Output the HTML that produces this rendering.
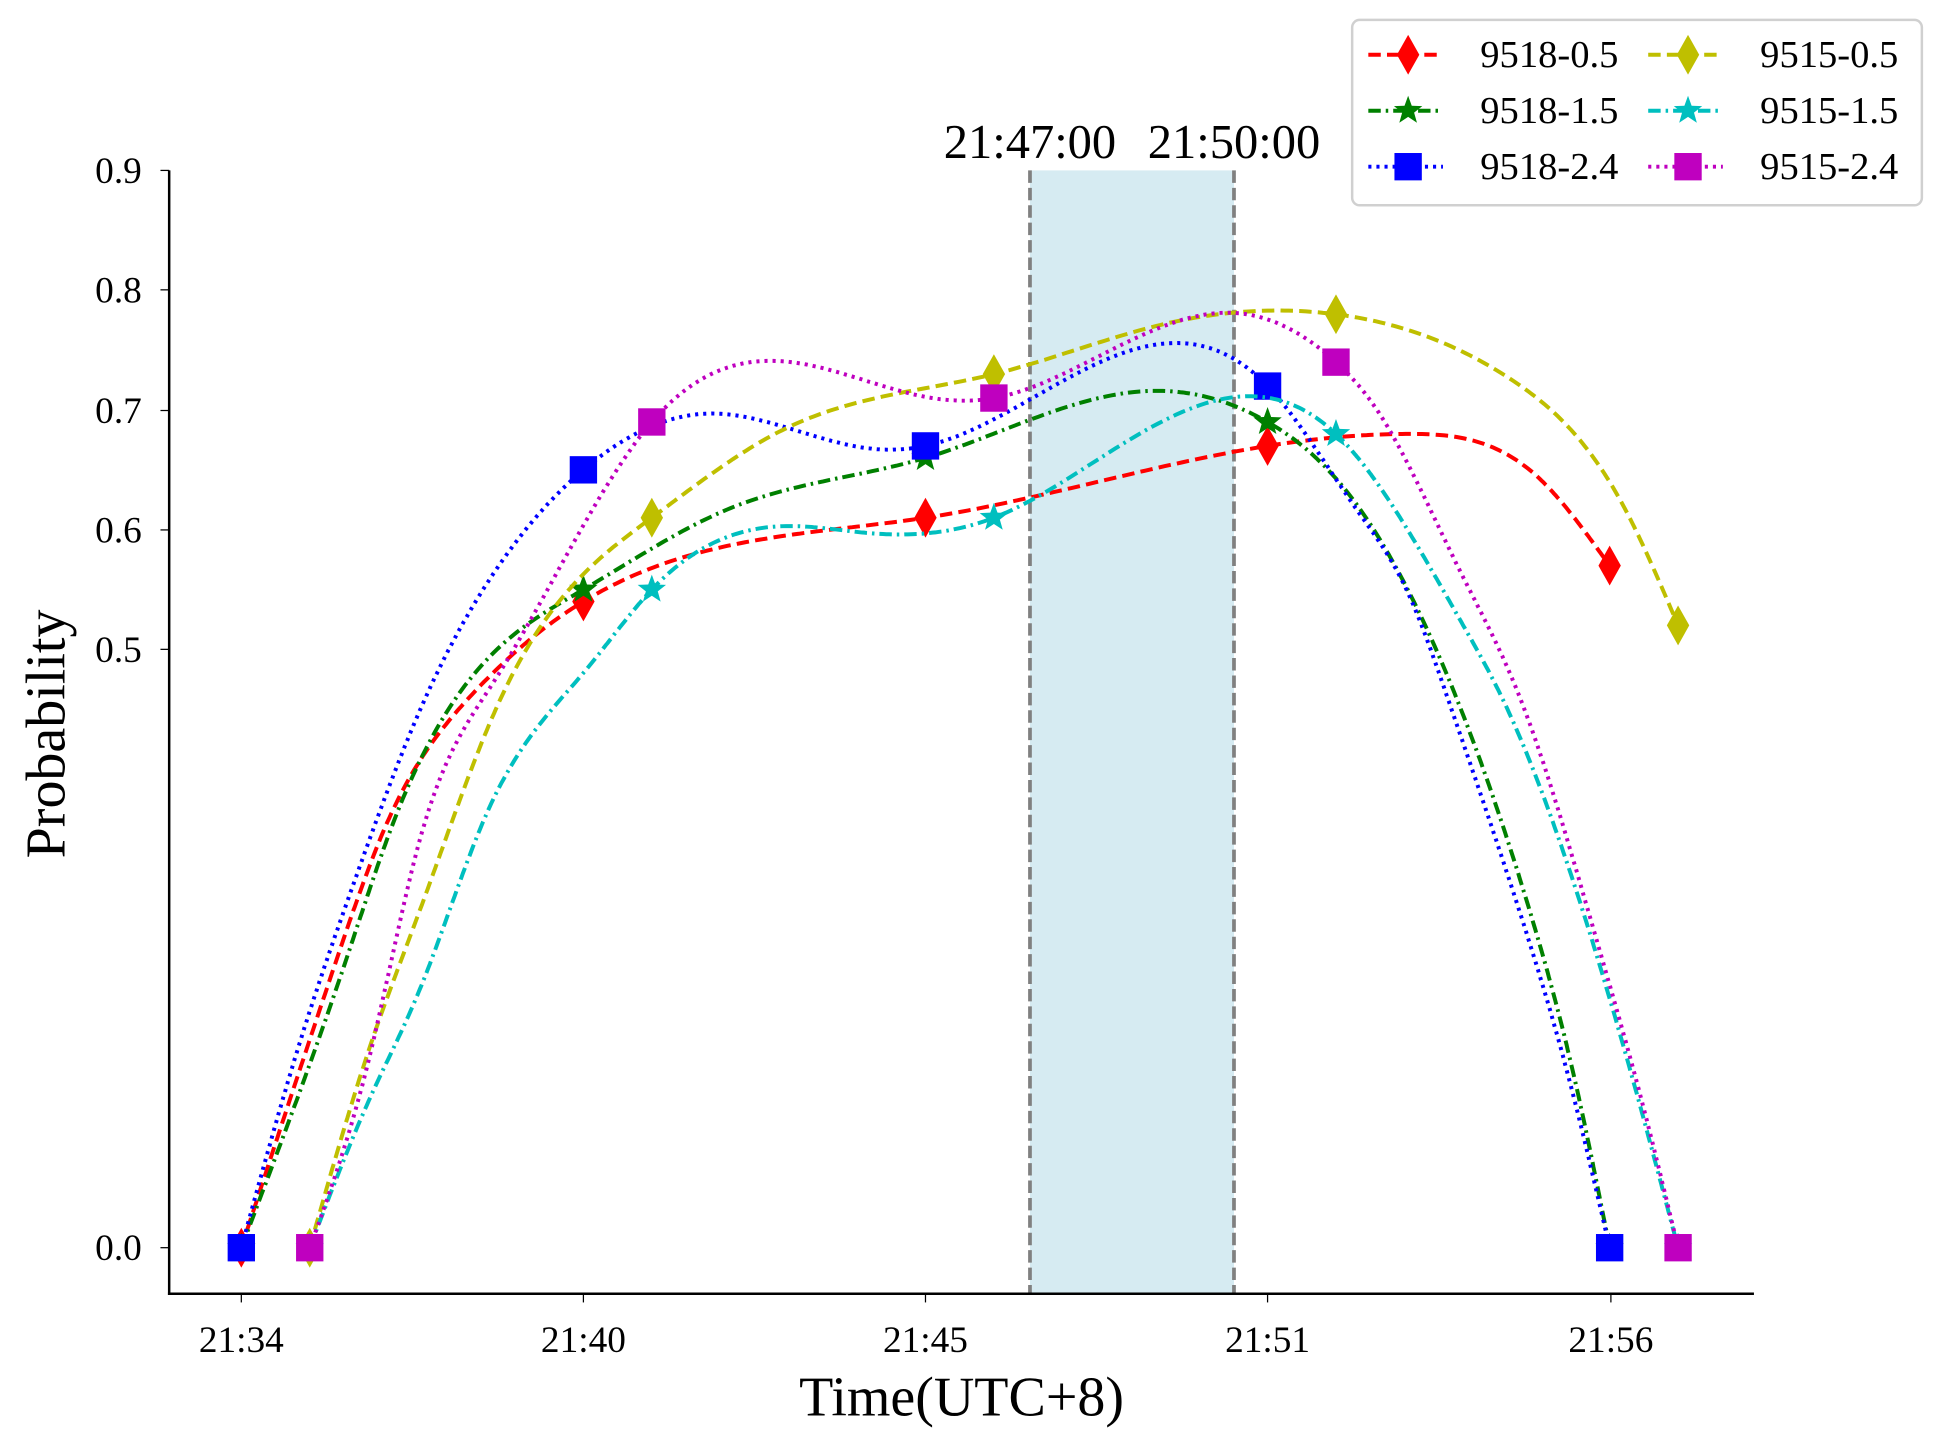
<!DOCTYPE html>
<html><head><meta charset="utf-8"><style>
html,body{margin:0;padding:0;background:#fff;}
svg{display:block;}
text{font-family:"Liberation Serif",serif;fill:#000;}
</style></head><body>
<svg id="s" width="1948" height="1443" viewBox="0 0 1566 1160" preserveAspectRatio="none" xmlns="http://www.w3.org/2000/svg">
<rect x="828" y="137" width="164" height="903" fill="#add8e6" opacity="0.5"/>
<line x1="828" y1="137" x2="828" y2="1040" stroke="#808080" stroke-width="3" stroke-dasharray="10,4"/>
<line x1="992" y1="137" x2="992" y2="1040" stroke="#808080" stroke-width="3" stroke-dasharray="10,4"/>
<text x="828" y="127" font-size="39" text-anchor="middle">21:47:00</text>
<text x="992" y="127" font-size="39" text-anchor="middle">21:50:00</text>
<g id="series"></g>
<line x1="136" y1="137" x2="136" y2="1041" stroke="#000" stroke-width="2"/>
<line x1="135" y1="1040" x2="1410" y2="1040" stroke="#000" stroke-width="2"/>
<g font-size="30" text-anchor="end">
<line x1="129" y1="137" x2="136" y2="137" stroke="#000"/><text x="114" y="147">0.9</text>
<line x1="129" y1="233" x2="136" y2="233" stroke="#000"/><text x="114" y="243">0.8</text>
<line x1="129" y1="330" x2="136" y2="330" stroke="#000"/><text x="114" y="340">0.7</text>
<line x1="129" y1="426" x2="136" y2="426" stroke="#000"/><text x="114" y="436">0.6</text>
<line x1="129" y1="522" x2="136" y2="522" stroke="#000"/><text x="114" y="532">0.5</text>
<line x1="129" y1="1003" x2="136" y2="1003" stroke="#000"/><text x="114" y="1013">0.0</text>
</g>
<g font-size="30" text-anchor="middle">
<line x1="194" y1="1040" x2="194" y2="1047" stroke="#000"/><text x="194" y="1087">21:34</text>
<line x1="469" y1="1040" x2="469" y2="1047" stroke="#000"/><text x="469" y="1087">21:40</text>
<line x1="744" y1="1040" x2="744" y2="1047" stroke="#000"/><text x="744" y="1087">21:45</text>
<line x1="1019" y1="1040" x2="1019" y2="1047" stroke="#000"/><text x="1019" y="1087">21:51</text>
<line x1="1295" y1="1040" x2="1295" y2="1047" stroke="#000"/><text x="1295" y="1087">21:56</text>
</g>
<text x="773" y="1138" font-size="45" text-anchor="middle">Time(UTC+8)</text>
<text transform="translate(52,590) rotate(-90)" font-size="45" text-anchor="middle">Probability</text>
<rect x="1087" y="16" width="458" height="149" rx="6" fill="#fff" stroke="#ccc" stroke-width="2" opacity="0.9"/>
<g id="legend" font-size="31"></g>
</svg>
<script>
var NS="http://www.w3.org/2000/svg";
function el(t,a,p){var e=document.createElementNS(NS,t);for(var k in a)e.setAttribute(k,a[k]);p.appendChild(e);return e;}
function X(k){return 194+55*k;}function Y(v){return 1003-v*962;}
function marker(g,type,x,y,c){
 if(type=="d")el("polygon",{points:(x)+","+(y-16)+" "+(x+9)+","+y+" "+x+","+(y+16)+" "+(x-9)+","+y,fill:c},g);
 else if(type=="s")el("rect",{x:x-11,y:y-11,width:22,height:22,fill:c},g);
 else{var p=[];for(var i=0;i<10;i++){var r=i%2?5:12,a=-Math.PI/2+i*Math.PI/5;p.push((x+r*Math.cos(a)).toFixed(1)+","+(y+r*Math.sin(a)).toFixed(1));}
  el("polygon",{points:p.join(" "),fill:c},g);}
}
function natural(pts){
 var n=pts.length,x=pts.map(function(p){return p[0];}),y=pts.map(function(p){return p[1];});
 var h=[],al=[],l=[1],mu=[0],z=[0],c=new Array(n).fill(0),b=[],d=[];
 for(var i=0;i<n-1;i++)h[i]=x[i+1]-x[i];
 for(i=1;i<n-1;i++)al[i]=3/h[i]*(y[i+1]-y[i])-3/h[i-1]*(y[i]-y[i-1]);
 for(i=1;i<n-1;i++){l[i]=2*(x[i+1]-x[i-1])-h[i-1]*mu[i-1];mu[i]=h[i]/l[i];z[i]=(al[i]-h[i-1]*z[i-1])/l[i];}
 for(i=n-2;i>=0;i--){c[i]=z[i]-mu[i]*c[i+1];b[i]=(y[i+1]-y[i])/h[i]-h[i]*(c[i+1]+2*c[i])/3;d[i]=(c[i+1]-c[i])/(3*h[i]);}
 var out=[];
 for(i=0;i<n-1;i++){for(var s=0;s<40;s++){var t=h[i]*s/40;out.push([x[i]+t,y[i]+b[i]*t+c[i]*t*t+d[i]*t*t*t]);}}
 out.push([x[n-1],y[n-1]]);
 return out.map(function(p){return X(p[0]).toFixed(1)+","+Y(p[1]).toFixed(1);}).join(" ");
}
var dash={d:"10,5",dd:"10,4,2,4",o:"2.5,4"};
var S=[
 ["9518-0.5","#ff0000","d","d",0,[0,0.54,0.61,0.67,0.57],
  [[0,0],[1.4,.242],[2.13,.355],[3.24,.454],[5,.54],[7.15,.587],[10,.61],[15,.67],[17.07,.68],[18.95,.644],[20,.57]]],
 ["9518-1.5","#008000","dd","*",0,[0,0.55,0.66,0.69,0],
  [[0,0],[1.54,.242],[2.22,.355],[5,.55],[7.15,.618],[10,.66],[13.3,.716],[15,.69],[16.1,.636],[17.77,.458],[18.85,.278],[19.5,.138],[20,0]]],
 ["9518-2.4","#0000ff","o","s",0,[0,0.65,0.67,0.72,0],
  [[0,0],[.82,.165],[1.64,.304],[2.61,.449],[3.49,.546],[5,.65],[6.82,.697],[9.16,.668],[10,.67],[13.65,.756],[15,.72],[16.3,.617],[17.07,.545],[17.64,.458],[18.7,.278],[19.42,.138],[20,0]]],
 ["9515-0.5","#bfbf00","d","d",1,[0,0.61,0.73,0.78,0.52],
  [[1,0],[1.88,.168],[2.61,.282],[3.72,.45],[6,.61],[7.9,.683],[11,.73],[13.5,.772],[16,.78],[18.6,.724],[20.2,.62],[21,.52]]],
 ["9515-1.5","#00bfbf","dd","*",1,[0,0.55,0.61,0.68,0],
  [[1,0],[1.88,.125],[2.61,.216],[3.58,.362],[5.04,.483],[6,.55],[7.96,.603],[9.2,.597],[11,.61],[14.55,.711],[16,.68],[16.6,.639],[17.8,.526],[18.44,.458],[19.66,.272],[20.38,.132],[21,0]]],
 ["9515-2.4","#bf00bf","o","s",1,[0,0.69,0.71,0.74,0],
  [[1,0],[1.88,.161],[2.61,.341],[3.68,.472],[6,.69],[7.82,.741],[10.1,.71],[11,.71],[14.55,.781],[16,.74],[16.6,.70],[17.8,.567],[18.7,.458],[19.8,.259],[20.5,.116],[21,0]]]];
var g=document.getElementById("series"),lg=document.getElementById("legend");
S.forEach(function(s,idx){
 el("polyline",{points:natural(s[6]),fill:"none",stroke:s[1],"stroke-width":3.2,"stroke-dasharray":dash[s[2]]},g);
 [0,5,10,15,20].forEach(function(k,i){marker(g,s[3],X(k+s[4]),Y(s[5][i]),s[1]);});
 var col=idx<3?0:1,row=idx%3,lx=1100+col*225,ly=44+row*45;
 el("line",{x1:lx,y1:ly,x2:lx+60,y2:ly,stroke:s[1],"stroke-width":3.2,"stroke-dasharray":dash[s[2]]},lg);
 marker(lg,s[3],lx+32,ly,s[1]);
 var t=el("text",{x:lx+90,y:ly+10},lg);t.textContent=s[0];
});
</script>
</body></html>
